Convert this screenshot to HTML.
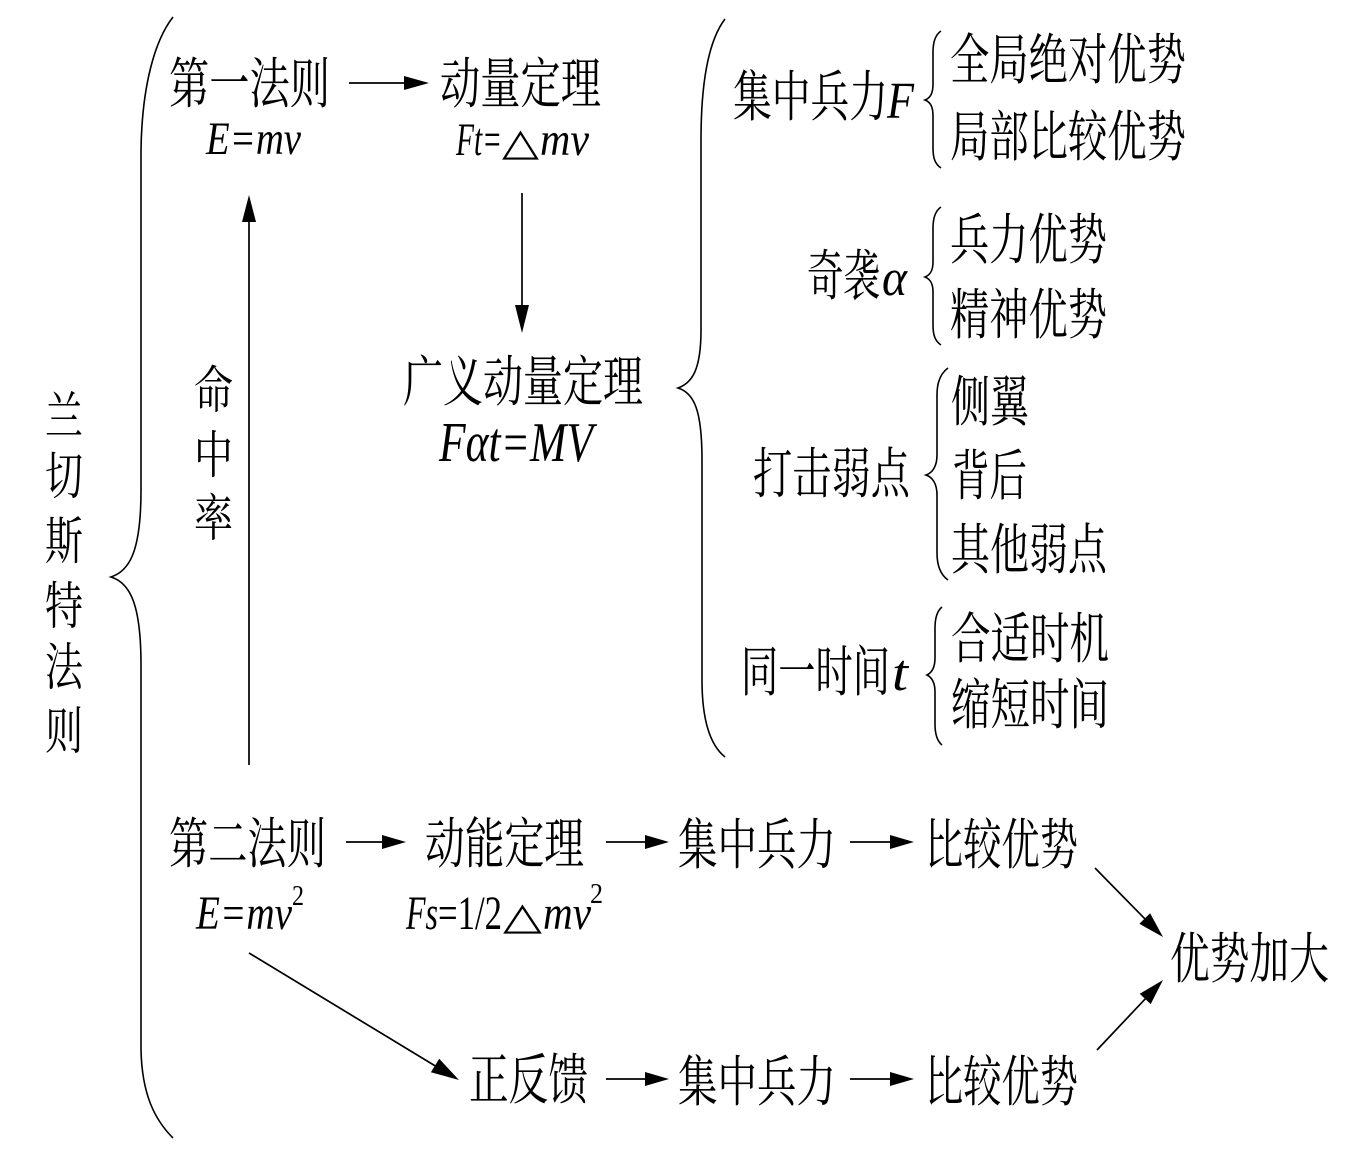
<!DOCTYPE html>
<html>
<head>
<meta charset="utf-8">
<style>
html,body{margin:0;padding:0;background:#fff;}
svg{display:block;}
.c{font-family:"Noto Serif CJK SC","Noto Sans CJK SC",serif;font-size:55px;fill:#000;}
.v{font-family:"Noto Serif CJK SC","Noto Sans CJK SC",serif;font-size:51px;fill:#000;}
.m{font-family:"Liberation Serif","DejaVu Serif",serif;font-style:italic;fill:#000;}
.u{font-family:"Liberation Serif","DejaVu Serif",serif;fill:#000;}
.ln{stroke:#000;stroke-width:1.7;fill:none;}
.br{stroke:#000;stroke-width:1.6;fill:none;}
</style>
</head>
<body>
<svg width="1356" height="1166" viewBox="0 0 1356 1166" xmlns="http://www.w3.org/2000/svg">
<rect width="1356" height="1166" fill="#fff"/>

<!-- Big left brace -->
<path class="br" d="M173,17 C155,40 142,85 141,150 L141,490 C141,550 130,571 111,577 C130,583 141,604 141,665 L141,1050 C142,1095 155,1120 173,1138"/>

<!-- Middle brace -->
<path class="br" d="M725,19 C709,40 701,80 701,140 L701,330 C701,370 692,383 678,388 C694,393 702,410 702,460 L702,680 C702,720 710,745 725,757"/>

<!-- Small braces -->
<path class="br" d="M941,31 C935,35 933,42 933,52 L933,84 C933,94 930,98 925,100 C930,102 933,106 933,116 L933,148 C933,158 935,164 941,168"/>
<path class="br" d="M941,207 C935,211 933,218 933,228 L933,262 C933,271 930,275 925,277 C930,279 933,283 933,292 L933,325 C933,335 935,341 941,345"/>
<path class="br" d="M948,368 C941,373 937,382 937,395 L937,455 C937,467 932,473 926,475 C932,477 937,483 937,495 L937,553 C937,566 941,575 948,580"/>
<path class="br" d="M942,607 C937,611 935,618 935,628 L935,658 C935,668 931,673 927,675 C931,677 935,682 935,692 L935,724 C935,734 937,741 942,745"/>

<!-- Vertical title -->
<text class="v" x="45" y="434" textLength="38" lengthAdjust="spacingAndGlyphs">兰</text>
<text class="v" x="45" y="494" textLength="38" lengthAdjust="spacingAndGlyphs">切</text>
<text class="v" x="45" y="559" textLength="38" lengthAdjust="spacingAndGlyphs">斯</text>
<text class="v" x="45" y="624" textLength="38" lengthAdjust="spacingAndGlyphs">特</text>
<text class="v" x="45" y="685" textLength="38" lengthAdjust="spacingAndGlyphs">法</text>
<text class="v" x="45" y="749" textLength="38" lengthAdjust="spacingAndGlyphs">则</text>

<!-- 命中率 -->
<text class="v" x="194" y="408" textLength="39" lengthAdjust="spacingAndGlyphs">命</text>
<text class="v" x="194" y="473" textLength="39" lengthAdjust="spacingAndGlyphs">中</text>
<text class="v" x="194" y="536" textLength="39" lengthAdjust="spacingAndGlyphs">率</text>

<!-- Top row -->
<text class="c" x="169" y="103" textLength="161" lengthAdjust="spacingAndGlyphs">第一法则</text>
<text class="m" x="206" y="154" font-size="47" textLength="95" lengthAdjust="spacingAndGlyphs">E=mv</text>
<text class="c" x="440" y="103" textLength="161" lengthAdjust="spacingAndGlyphs">动量定理</text>
<text class="m" x="456" y="155" font-size="47" textLength="46" lengthAdjust="spacingAndGlyphs">Ft=</text>
<text class="u" x="502" y="155" font-size="38" textLength="37" lengthAdjust="spacingAndGlyphs">△</text>
<text class="m" x="540" y="155" font-size="47" textLength="49" lengthAdjust="spacingAndGlyphs">mv</text>

<line class="ln" x1="349" y1="83" x2="406" y2="83"/>
<polygon points="429,83 404,76 404,90" fill="#000"/>

<line class="ln" x1="522" y1="193" x2="522" y2="307"/>
<polygon points="522,333 515,305 529,305" fill="#000"/>

<line class="ln" x1="249" y1="765" x2="249" y2="220"/>
<polygon points="249,195 242,222 256,222" fill="#000"/>

<text class="c" x="403" y="401" textLength="240" lengthAdjust="spacingAndGlyphs">广义动量定理</text>
<text class="m" x="439" y="461" font-size="56" textLength="154" lengthAdjust="spacingAndGlyphs">Fαt=MV</text>

<!-- Right column -->
<text class="c" x="733" y="116" textLength="155" lengthAdjust="spacingAndGlyphs">集中兵力</text>
<text class="m" x="887" y="118" font-size="52" textLength="27" lengthAdjust="spacingAndGlyphs">F</text>
<text class="c" x="950" y="79" textLength="236" lengthAdjust="spacingAndGlyphs">全局绝对优势</text>
<text class="c" x="950" y="156" textLength="236" lengthAdjust="spacingAndGlyphs">局部比较优势</text>

<text class="c" x="807" y="295" textLength="73" lengthAdjust="spacingAndGlyphs">奇袭</text>
<text class="m" x="882" y="295" font-size="52" textLength="25" lengthAdjust="spacingAndGlyphs">α</text>
<text class="c" x="950" y="259" textLength="157" lengthAdjust="spacingAndGlyphs">兵力优势</text>
<text class="c" x="950" y="334" textLength="157" lengthAdjust="spacingAndGlyphs">精神优势</text>

<text class="c" x="753" y="493" textLength="157" lengthAdjust="spacingAndGlyphs">打击弱点</text>
<text class="c" x="951" y="421" textLength="78" lengthAdjust="spacingAndGlyphs">侧翼</text>
<text class="c" x="952" y="495" textLength="75" lengthAdjust="spacingAndGlyphs">背后</text>
<text class="c" x="951" y="569" textLength="156" lengthAdjust="spacingAndGlyphs">其他弱点</text>

<text class="c" x="741" y="691" textLength="149" lengthAdjust="spacingAndGlyphs">同一时间</text>
<text class="m" x="892" y="690" font-size="52" textLength="16" lengthAdjust="spacingAndGlyphs">t</text>
<text class="c" x="951" y="658" textLength="158" lengthAdjust="spacingAndGlyphs">合适时机</text>
<text class="c" x="951" y="724" textLength="158" lengthAdjust="spacingAndGlyphs">缩短时间</text>

<!-- Second law row -->
<text class="c" x="169" y="863" textLength="157" lengthAdjust="spacingAndGlyphs">第二法则</text>
<text class="m" x="196" y="929" font-size="48" textLength="96" lengthAdjust="spacingAndGlyphs">E=mv</text>
<text class="u" x="292" y="905" font-size="29" textLength="12" lengthAdjust="spacingAndGlyphs">2</text>

<line class="ln" x1="346" y1="842" x2="384" y2="842"/>
<polygon points="406,842 382,835 382,849" fill="#000"/>

<text class="c" x="425" y="863" textLength="159" lengthAdjust="spacingAndGlyphs">动能定理</text>
<text class="m" x="406" y="929" font-size="48" textLength="32" lengthAdjust="spacingAndGlyphs">Fs</text>
<text class="u" x="438" y="929" font-size="48" textLength="64" lengthAdjust="spacingAndGlyphs">=1/2</text>
<text class="u" x="503" y="929" font-size="38" textLength="39" lengthAdjust="spacingAndGlyphs">△</text>
<text class="m" x="543" y="929" font-size="48" textLength="48" lengthAdjust="spacingAndGlyphs">mv</text>
<text class="u" x="590" y="903" font-size="29" textLength="13" lengthAdjust="spacingAndGlyphs">2</text>

<line class="ln" x1="606" y1="842" x2="647" y2="842"/>
<polygon points="669,842 645,835 645,849" fill="#000"/>

<text class="c" x="678" y="864" textLength="158" lengthAdjust="spacingAndGlyphs">集中兵力</text>

<line class="ln" x1="850" y1="842" x2="892" y2="842"/>
<polygon points="914,842 890,835 890,849" fill="#000"/>

<text class="c" x="925" y="864" textLength="153" lengthAdjust="spacingAndGlyphs">比较优势</text>

<!-- Diagonals -->
<line class="ln" x1="249" y1="953" x2="437" y2="1067"/>
<polygon points="459,1080 430.9,1072.3 439.2,1058.7" fill="#000"/>

<line class="ln" x1="1095" y1="868" x2="1146" y2="920"/>
<polygon points="1163,937 1139.4,923.8 1150.1,913.2" fill="#000"/>

<line class="ln" x1="1097" y1="1050" x2="1147" y2="997"/>
<polygon points="1163,980 1150.7,1004.1 1139.7,993.8" fill="#000"/>

<text class="c" x="1170" y="978" textLength="159" lengthAdjust="spacingAndGlyphs">优势加大</text>

<!-- Bottom row -->
<text class="c" x="469" y="1099" textLength="119" lengthAdjust="spacingAndGlyphs">正反馈</text>

<line class="ln" x1="606" y1="1079" x2="647" y2="1079"/>
<polygon points="669,1079 645,1072 645,1086" fill="#000"/>

<text class="c" x="678" y="1101" textLength="158" lengthAdjust="spacingAndGlyphs">集中兵力</text>

<line class="ln" x1="850" y1="1079" x2="892" y2="1079"/>
<polygon points="914,1079 890,1072 890,1086" fill="#000"/>

<text class="c" x="925" y="1101" textLength="153" lengthAdjust="spacingAndGlyphs">比较优势</text>
</svg>
</body>
</html>
